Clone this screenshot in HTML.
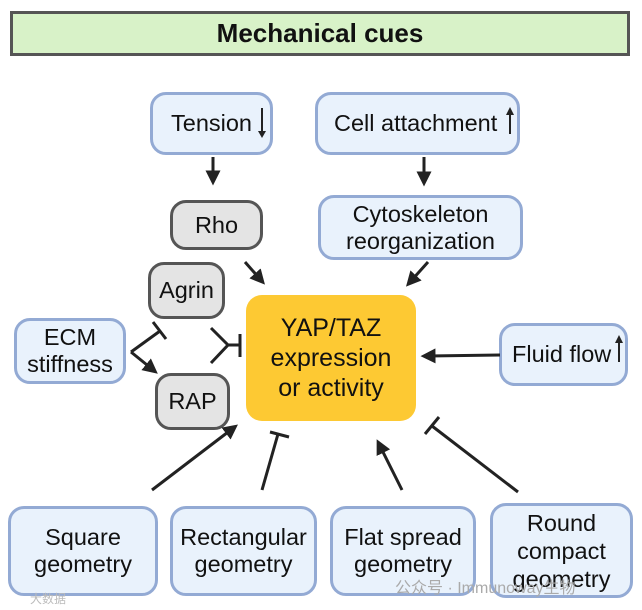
<!DOCTYPE html>
<html><head><meta charset="utf-8"><style>
body{margin:0;width:642px;height:610px;background:#fff;overflow:hidden;font-family:"Liberation Sans","Noto Sans CJK SC",sans-serif;}
.b{position:absolute;box-sizing:border-box;background:#e9f2fc;border:3px solid #93aad4;border-radius:16px;display:flex;align-items:center;justify-content:center;text-align:center;font-size:23.5px;line-height:27px;color:#111;}
.g{background:#e4e4e4;border-color:#555;}
</style></head><body>
<div class="b" style="left:10px;top:11px;width:620px;height:45px;border-radius:0;background:#d8f2c8;border-color:#555;font-weight:bold;font-size:26px">Mechanical cues</div>
<div class="b" style="left:150px;top:92px;width:123px;height:63px;justify-content:flex-start;padding-left:18px">Tension</div>
<div class="b" style="left:315px;top:92px;width:205px;height:63px;justify-content:flex-start;padding-left:16px">Cell attachment</div>
<div class="b g" style="left:170px;top:200px;width:93px;height:50px">Rho</div>
<div class="b" style="left:318px;top:195px;width:205px;height:65px">Cytoskeleton<br>reorganization</div>
<div class="b g" style="left:148px;top:262px;width:77px;height:57px">Agrin</div>
<div class="b" style="left:14px;top:318px;width:112px;height:66px">ECM<br>stiffness</div>
<div class="b g" style="left:155px;top:373px;width:75px;height:57px">RAP</div>
<div class="b" style="left:246px;top:295px;width:170px;height:126px;background:#fdc933;border:none;font-size:25px;line-height:30px">YAP/TAZ<br>expression<br>or activity</div>
<div class="b" style="left:499px;top:323px;width:129px;height:63px;justify-content:flex-start;padding-left:10px">Fluid flow</div>
<div class="b" style="left:8px;top:506px;width:150px;height:90px">Square<br>geometry</div>
<div class="b" style="left:170px;top:506px;width:147px;height:90px">Rectangular<br>geometry</div>
<div class="b" style="left:330px;top:506px;width:146px;height:90px">Flat spread<br>geometry</div>
<div class="b" style="left:490px;top:503px;width:143px;height:95px;line-height:28px">Round<br>compact<br>geometry</div>
<svg width="642" height="610" style="position:absolute;left:0;top:0" fill="none" stroke="#222" stroke-width="3">
<defs><marker id="a" markerWidth="5" markerHeight="5" refX="2.5" refY="2.5" orient="auto"><path d="M0,0L5,2.5L0,5Z" fill="#222" stroke="none"/></marker></defs>
<g marker-end="url(#a)">
<line x1="213" y1="157" x2="213" y2="178"/>
<line x1="424" y1="157" x2="424" y2="179"/>
<line x1="245" y1="262" x2="260" y2="279"/>
<line x1="428" y1="262" x2="411" y2="281"/>
<line x1="131" y1="352" x2="152" y2="369"/>
<line x1="500" y1="355" x2="428" y2="356"/>
<line x1="152" y1="490" x2="232" y2="429"/>
<line x1="402" y1="490" x2="380" y2="446"/>
</g>
<line x1="131" y1="352" x2="160" y2="331"/><line x1="153" y1="322" x2="166" y2="339"/>
<polyline points="211,328 228,345 211,363"/><line x1="228" y1="345" x2="240" y2="345"/><line x1="240" y1="334" x2="240" y2="357"/>
<line x1="262" y1="490" x2="278" y2="434"/><line x1="270" y1="432" x2="289" y2="437"/>
<line x1="518" y1="492" x2="432" y2="426"/><line x1="425" y1="434" x2="439" y2="417"/>
<line x1="262" y1="108" x2="262" y2="136" stroke-width="2"/><path d="M258,131L262,138L266,131Z" fill="#222" stroke="none"/>
<line x1="510" y1="110" x2="510" y2="134" stroke-width="2"/><path d="M506,115L510,107L514,115Z" fill="#222" stroke="none"/>
<line x1="619" y1="338" x2="619" y2="362" stroke-width="2"/><path d="M615,343L619,335L623,343Z" fill="#222" stroke="none"/>
</svg>
<div style="position:absolute;left:395px;top:574px;font-size:16px;color:#aaa">公众号 · Immunoway生物</div>
<div style="position:absolute;left:30px;top:590px;font-size:12px;color:#bbb">大数据</div>
</body></html>
